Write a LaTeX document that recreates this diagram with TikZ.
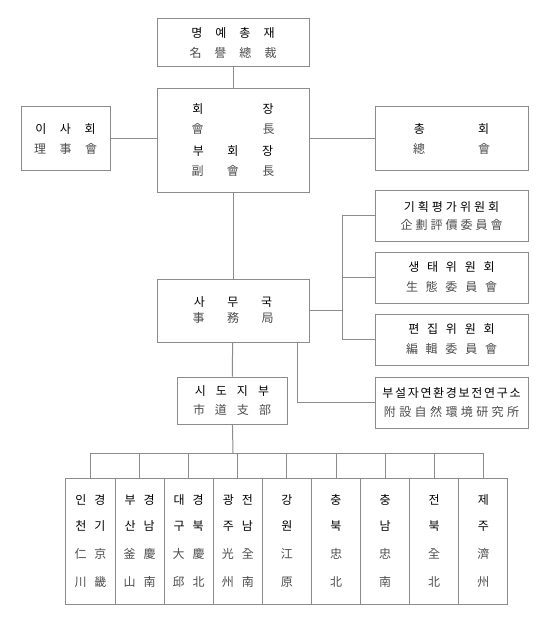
\documentclass[tikz,border=0pt]{standalone}
\usepackage{fontspec}
\usepackage{xcolor}
\newfontfamily\kr{Noto Sans CJK KR}

% spread the characters of a word with a fixed gap between them
\ExplSyntaxOn
\cs_generate_variant:Nn \seq_set_split:Nnn {NnV}
\NewDocumentCommand{\spread}{mm}{
  \tl_set:Nx \l_tmpa_tl {#2}
  \seq_set_split:NnV \l_tmpa_seq {} \l_tmpa_tl
  \seq_use:Nn \l_tmpa_seq {\hspace{#1}}
}
\ExplSyntaxOff
\newcommand{\hj}[1]{\textcolor{black!70}{#1}}

\begin{document}
\begin{tikzpicture}[x=1pt, y=-1pt,
  box/.style={draw=black!45, line width=1pt, inner sep=0pt, align=center,
    font=\kr\fontsize{12}{20}\selectfont},
  region/.style={box, minimum width=49.1pt, minimum height=126pt,
    font=\kr\fontsize{12}{28}\selectfont},
  link/.style={draw=black!45, line width=1pt}]
  \useasboundingbox (0,0) rectangle (550,631);

  % Top: honorary president and president
  \node[box, minimum width=152pt, minimum height=48pt] (honor) at (233,43)
    {\spread{13pt}{명예총재}\\\hj{\spread{13pt}{名譽總裁}}};
  \node[box, minimum width=152pt, minimum height=103pt] (head) at (233,140.5)
    {\spread{59pt}{회장}\\\hj{\spread{59pt}{會長}}\\[2pt]
     \spread{23.5pt}{부회장}\\\hj{\spread{23.5pt}{副會長}}};

  % Side boards
  \node[box, minimum width=89pt, minimum height=64pt] (board) at (65.5,139)
    {\spread{13.5pt}{이사회}\\\hj{\spread{13.5pt}{理事會}}};
  \node[box, minimum width=153pt, minimum height=64pt] (assembly) at (451.5,139)
    {\spread{53pt}{총회}\\\hj{\spread{53pt}{總會}}};

  % Committees
  \node[box, minimum width=153pt, minimum height=51pt] (plan) at (451.5,215.5)
    {\spread{3pt}{기획평가위원회}\\[-2pt]\hj{\spread{3pt}{企劃評價委員會}}};
  \node[box, minimum width=153pt, minimum height=51pt] (eco) at (451.5,277.5)
    {\spread{7.75pt}{생태위원회}\\\hj{\spread{7.75pt}{生態委員會}}};
  \node[box, minimum width=153pt, minimum height=51pt] (edit) at (451.5,339.5)
    {\spread{7.75pt}{편집위원회}\\\hj{\spread{7.75pt}{編輯委員會}}};
  \node[box, minimum width=153pt, minimum height=51pt] (inst) at (451.5,402.5)
    {\spread{1.7pt}{부설자연환경보전연구소}\\[-1pt]\hj{\spread{3.4pt}{附設自然環境研究所}}};

  % Secretariat and branches
  \node[box, minimum width=152pt, minimum height=63pt] (office) at (233,310.5)
    {\spread{22.5pt}{사무국}\\[-4pt]\hj{\spread{22.5pt}{事務局}}};
  \node[box, minimum width=110pt, minimum height=47pt] (branch) at (232,400.5)
    {\spread{10pt}{시도지부}\\[-1pt]\hj{\spread{10pt}{市道支部}}};

  % Regional branches
  \foreach \i/\a/\b/\c/\d in {1/인경/천기/仁京/川畿, 2/부경/산남/釜慶/山南,
      3/대경/구북/大慶/邱北, 4/광전/주남/光全/州南, 5/강/원/江/原,
      6/충/북/忠/北, 7/충/남/忠/南, 8/전/북/全/北, 9/제/주/濟/州}
    \node[region] (r\i) at ({41.4+49.1*\i},541)
      {\spread{8pt}{\a}\\[-2pt]\spread{8pt}{\b}\\\hj{\spread{8pt}{\c}}\\\hj{\spread{8pt}{\d}}};

  % Connectors
  \draw[link] (honor) -- (head);
  \draw[link] (board.east) -- (board.east -| head.west);
  \draw[link] (assembly.west) -- (assembly.west -| head.east);
  \draw[link] (head) -- (office);
  \draw[link] (office) -- (branch);

  \coordinate (rail) at (342,311);
  \draw[link] (office.east) -- (office.east -| rail);
  \draw[link] (plan.west) -- (plan.west -| rail) -- (edit.west -| rail) -- (edit.west);
  \draw[link] (eco.west) -- (eco.west -| rail);
  \draw[link] ([xshift=-12pt]office.south east) |- (inst.west);

  \coordinate (bus) at (233,453);
  \draw[link] (branch) -- (bus);
  \draw[link] (r1.north |- bus) -- (r9.north |- bus);
  \foreach \i in {1,...,9}
    \draw[link] (r\i.north) -- (r\i.north |- bus);
\end{tikzpicture}
\end{document}
